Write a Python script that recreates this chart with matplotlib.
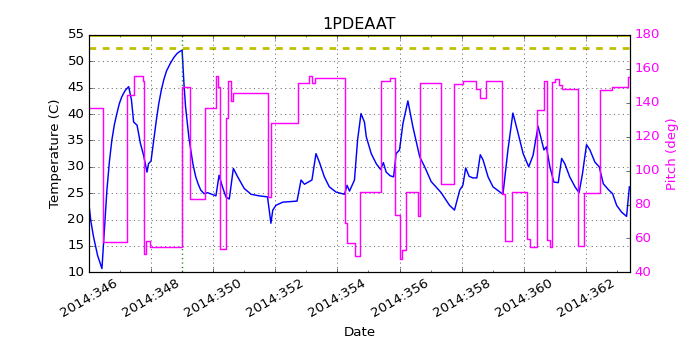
import matplotlib
matplotlib.use('Agg')
import matplotlib.pyplot as plt
from matplotlib.ticker import MultipleLocator, FuncFormatter

# Temperature (1PDEAAT) samples, day of year 2014
temp_days = [346.00, 346.06, 346.15, 346.28, 346.42, 346.50, 346.58, 346.66, 346.74, 346.82,
             346.90, 346.98, 347.06, 347.17, 347.28,
             347.37, 347.44, 347.55, 347.66, 347.76, 347.87, 347.92, 348.00, 348.09, 348.17,
             348.25, 348.33, 348.41, 348.50, 348.62, 348.73, 348.84, 348.93, 349.00, 349.06,
             349.11, 349.17, 349.22, 349.28, 349.35, 349.44, 349.52, 349.60, 349.71,
             349.82, 350.09, 350.19, 350.30, 350.41, 350.52, 350.65, 350.79, 351.00, 351.22,
             351.48, 351.75, 351.86, 351.92, 352.02, 352.24, 352.70, 352.83, 352.94, 353.18,
             353.31, 353.42, 353.58, 353.74, 353.96, 354.23, 354.31, 354.39, 354.55, 354.65,
             354.76, 354.87, 354.93, 355.09, 355.25, 355.39, 355.48, 355.57, 355.70, 355.81,
             355.89, 356.00, 356.11, 356.27, 356.43, 356.65, 356.81, 357.02, 357.34, 357.50,
             357.61, 357.77, 357.94, 358.04, 358.13, 358.24, 358.36, 358.49, 358.60, 358.69,
             358.85, 359.01, 359.33, 359.49, 359.65, 359.82, 359.98, 360.16, 360.30, 360.46,
             360.65, 360.73, 360.84, 360.97, 361.11, 361.22, 361.32, 361.48, 361.65, 361.78,
             361.89, 362.02, 362.13, 362.29, 362.43, 362.56, 362.72, 362.86, 362.99, 363.15,
             363.31, 363.40]
temp_vals = [23.0, 19.8, 16.7, 13.2, 10.7, 18.0, 25.6, 31.0, 35.1, 38.0,
             40.1, 42.0, 43.3, 44.5, 45.2,
             42.7, 38.5, 37.9, 34.4, 32.2, 29.0, 30.6, 31.1, 35.1, 38.8,
             42.0, 44.5, 46.5, 48.2, 49.6, 50.7, 51.5, 51.9, 52.1, 45.8,
             41.5, 38.2, 35.5, 33.2, 30.5, 28.1, 26.7, 25.6, 24.9,
             25.1, 24.5, 28.4, 26.2, 24.3, 23.9, 29.7, 28.1, 25.9, 24.8,
             24.5, 24.3, 19.3, 21.8, 22.7, 23.3, 23.5, 27.5, 26.7, 27.5,
             32.5, 30.9, 28.1, 26.2, 25.2, 24.8, 26.5, 25.4, 27.5, 35.1,
             40.1, 38.5, 35.7, 32.5, 30.6, 29.5, 30.8, 29.0, 28.3, 28.1,
             32.5, 33.2, 38.2, 42.5, 37.6, 31.9, 30.0, 27.2, 25.1, 23.7,
             22.7, 21.8, 25.6, 26.5, 29.8, 28.2, 27.9, 27.9, 32.3, 31.3,
             28.1, 26.2, 24.8, 33.2, 40.2, 36.3, 32.5, 30.0, 32.2, 37.7,
             33.2, 33.8, 30.0, 27.1, 27.0, 31.6, 30.6, 28.1, 26.2, 25.1,
             28.7, 34.2, 33.2, 30.9, 30.0, 26.8, 25.7, 24.9, 22.7, 21.4,
             20.6, 26.2]

# Pitch steps: start day and pitch (deg)
pitch_days = [346.00, 346.44, 347.24, 347.44, 347.73, 347.77, 347.85, 347.98, 349.00, 349.26,
              349.74, 350.10, 350.17, 350.22, 350.41, 350.47, 350.59, 350.65, 351.75, 351.86,
              352.72, 353.07, 353.17, 353.29, 354.25, 354.31, 354.57, 354.73, 355.39, 355.70,
              355.87, 356.00, 356.09, 356.22, 356.61, 356.66, 357.32, 357.74, 358.04, 358.45,
              358.60, 358.77, 359.30, 359.39, 359.62, 360.12, 360.19, 360.43, 360.65, 360.75,
              360.84, 360.91, 361.00, 361.14, 361.22, 361.75, 361.95, 362.45, 362.83, 363.37,
              363.42]
pitch_vals = [137.0, 57.6, 144.5, 155.8, 153.0, 51.0, 58.3, 55.0, 149.1, 83.5,
              136.7, 155.8, 149.5, 54.0, 130.8, 153.0, 141.2, 145.5, 84.5, 128.2,
              151.8, 155.8, 151.8, 154.4, 69.1, 57.3, 49.5, 87.1, 152.8, 154.8,
              73.7, 48.1, 53.0, 87.1, 73.3, 151.8, 92.0, 150.9, 152.8, 147.9,
              142.6, 152.8, 86.1, 58.5, 87.1, 59.9, 55.0, 135.7, 153.0, 58.9,
              55.0, 152.4, 153.8, 150.4, 147.9, 55.5, 86.9, 147.5, 149.5, 155.4,
              155.4]

planning_limit = 52.5
caution_limit = 55.0
mark_day = 349.0

plt.style.use('classic')
fig = plt.figure(figsize=(8.75, 4.375), facecolor='w')
fig.subplots_adjust(left=0.127, right=0.9, top=0.9, bottom=0.222)
ax1 = fig.add_subplot(111)

ax1.plot(temp_days, temp_vals, 'b-', lw=1.3)
ax1.axhline(planning_limit, color='y', linestyle='--', lw=2.5, dashes=(6, 6))
ax1.axhline(caution_limit, color='y', linestyle='-', lw=2.5)
ax1.axvline(mark_day, color='g', linestyle=':', lw=1.3)
ax1.set_xlim(346.0, 363.42)
ax1.set_ylim(10, 55)
ax1.set_title('1PDEAAT')
ax1.set_xlabel('Date')
ax1.set_ylabel('Temperature (C)')
ax1.xaxis.set_major_locator(MultipleLocator(2))
ax1.xaxis.set_minor_locator(MultipleLocator(1))
ax1.xaxis.set_major_formatter(FuncFormatter(lambda x, pos: '2014:%03d' % round(x)))
ax1.grid(True)
for lab in ax1.get_xticklabels():
    lab.set_rotation(30)

ax2 = ax1.twinx()
ax2.plot(pitch_days, pitch_vals, color='magenta', drawstyle='steps-post', lw=1.3)
ax2.set_xlim(346.0, 363.42)
ax2.set_ylim(40, 180)
ax2.set_ylabel('Pitch (deg)', color='magenta')
for lab in ax2.get_yticklabels():
    lab.set_color('magenta')

fig.savefig('out.png', dpi=80, facecolor='w')
